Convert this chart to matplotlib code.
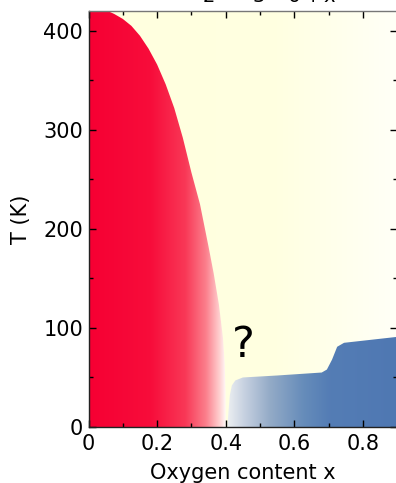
import numpy as np
import matplotlib
matplotlib.use('Agg')
import matplotlib.pyplot as plt
from matplotlib.colors import LinearSegmentedColormap
from matplotlib.patches import Polygon
from matplotlib.ticker import MultipleLocator

# --- data ---
dome_x = [0.0, 0.025, 0.05, 0.075, 0.10, 0.125, 0.15, 0.175, 0.20, 0.225, 0.25, 0.275,
          0.30, 0.325, 0.35, 0.365, 0.38, 0.392, 0.397, 0.3995, 0.40]
dome_T = [425, 424, 421, 417, 412, 405, 395, 382, 366, 346, 322, 292,
          257, 225, 182, 155, 124, 90, 65, 35, 0]
sc_x = [0.405, 0.408, 0.412, 0.418, 0.428, 0.45, 0.55, 0.68, 0.695, 0.71, 0.725, 0.745, 0.90]
sc_T = [0, 15, 32, 42, 47, 50, 52, 55, 58, 68, 81, 85, 91]
xticks = [0, 0.2, 0.4, 0.6, 0.8]
xticklabels = ['0', '0.2', '0.4', '0.6', '0.8']
yticks = [0, 100, 200, 300, 400]
title = "YBa$_2$Cu$_3$O$_{6+x}$"
xlabel = "Oxygen content x"
ylabel = "T (K)"

plt.rcParams['font.family'] = ['DejaVu Sans']
plt.rcParams['mathtext.fontset'] = 'dejavusans'

W, H = 396, 483
fig = plt.figure(figsize=(W / 100, H / 100), dpi=100)
ax = fig.add_axes([88.5 / W, 56 / H, 308.7 / W, 416 / H])
ax.set_xlim(0, 0.9)
ax.set_ylim(0, 420)

grad = np.linspace(0, 1, 256)[None, :]

# background gradient (light yellow -> white)
bg = LinearSegmentedColormap.from_list('bg', [(0, (1, 1, 0.875)), (0.6, (1, 1, 0.88)), (1, (1, 1, 0.97))])
ax.imshow(grad, cmap=bg, extent=[0, 0.9, 0, 420], aspect='auto', zorder=0, interpolation='bicubic')

# red dome
red = LinearSegmentedColormap.from_list('red', [
    (0.0, (0.965, 0.0, 0.20)),
    (0.45, (0.97, 0.05, 0.23)),
    (0.7, (0.975, 0.22, 0.34)),
    (0.85, (0.985, 0.50, 0.55)),
    (0.95, (1.0, 0.82, 0.82)),
    (1.0, (1.0, 1.0, 1.0))])
dome_poly = Polygon(list(zip([0.0] + dome_x, [0] + dome_T)), closed=True, facecolor='none', edgecolor='none')
ax.add_patch(dome_poly)
im = ax.imshow(grad, cmap=red, extent=[0, 0.40, 0, 430], aspect='auto', zorder=1, interpolation='bicubic')
im.set_clip_path(dome_poly)

# blue region
blue = LinearSegmentedColormap.from_list('blue', [
    (0.0, (0.93, 0.94, 0.95)),
    (0.1, (0.78, 0.82, 0.88)),
    (0.25, (0.58, 0.67, 0.78)),
    (0.45, (0.40, 0.55, 0.73)),
    (0.6, (0.33, 0.49, 0.71)),
    (1.0, (0.31, 0.47, 0.70))])
sc_poly = Polygon(list(zip(sc_x + [0.9], sc_T + [0])), closed=True, facecolor='none', edgecolor='none')
ax.add_patch(sc_poly)
im2 = ax.imshow(grad, cmap=blue, extent=[0.405, 0.9, 0, 100], aspect='auto', zorder=1, interpolation='bicubic')
im2.set_clip_path(sc_poly)

ax.text(0.452, 83, '?', fontsize=31, ha='center', va='center', color='black', zorder=3)

ax.set_xticks(xticks)
ax.set_xticklabels(xticklabels)
ax.set_yticks(yticks)
ax.xaxis.set_minor_locator(MultipleLocator(0.1))
ax.yaxis.set_minor_locator(MultipleLocator(50))
ax.tick_params(which='both', direction='in', top=True, right=True, labelsize=15, colors='black')
ax.tick_params(which='major', length=5, width=1)
ax.tick_params(which='minor', length=3, width=1)
ax.tick_params(axis='x', pad=5)
ax.tick_params(axis='y', pad=4)
for s in ax.spines.values():
    s.set_linewidth(1.0)
    s.set_color('#222222')
ax.spines['top'].set_color('#777777')

ax.set_xlabel(xlabel, fontsize=15, labelpad=6.5)
ax.set_ylabel(ylabel, fontsize=15, labelpad=9)

fig.text(243 / W, 1 + 2 / H, title, fontsize=20, ha='center', va='baseline', color='black')

fig.savefig('out.png', dpi=100)
